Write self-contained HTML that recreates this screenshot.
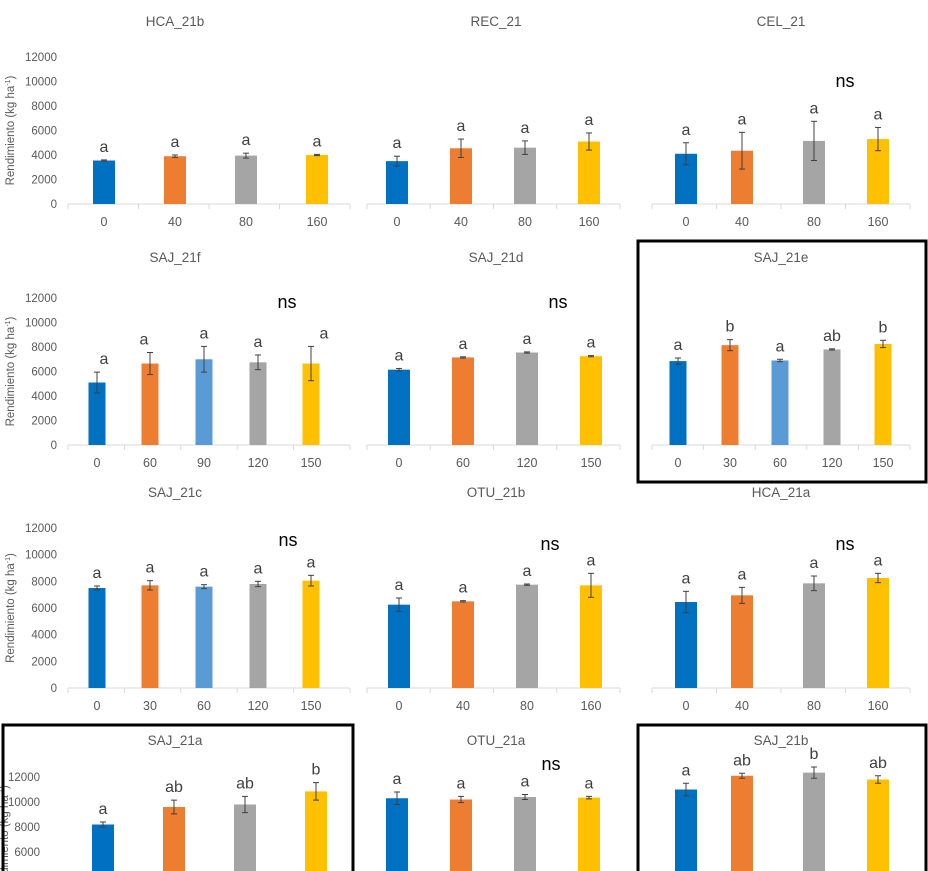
<!DOCTYPE html>
<html><head><meta charset="utf-8"><style>
html,body{margin:0;padding:0;background:#fff;width:928px;height:871px;overflow:hidden;}
svg{display:block;font-family:"Liberation Sans",sans-serif;}
</style></head><body>
<svg id="c" width="928" height="871" viewBox="0 0 928 871" xmlns="http://www.w3.org/2000/svg"></svg>
<script>
// ---- data ----
const titles = ["HCA_21b","REC_21","CEL_21","SAJ_21f","SAJ_21d","SAJ_21e","SAJ_21c","OTU_21b","HCA_21a","SAJ_21a","OTU_21a","SAJ_21b"];
const categories = [
 ["0","40","80","160"],["0","40","80","160"],["0","40","80","160"],
 ["0","60","90","120","150"],["0","60","120","150"],["0","30","60","120","150"],
 ["0","30","60","120","150"],["0","40","80","160"],["0","40","80","160"],
 ["0","40","80","160"],["0","40","80","160"],["0","40","80","160"]];
const values = [
 [3550,3900,3950,4000],[3500,4550,4600,5100],[4100,4350,5150,5300],
 [5100,6650,7000,6750,6650],[6150,7150,7550,7250],[6850,8150,6900,7800,8250],
 [7500,7700,7600,7800,8050],[6250,6500,7750,7700],[6450,6950,7850,8250],
 [8200,9600,9800,10850],[10300,10200,10400,10350],[11000,12100,12350,11800]];
const errors = [
 [50,100,200,50],[400,750,550,700],[900,1500,1600,950],
 [850,900,1050,600,1400],[100,50,50,50],[250,450,100,50,300],
 [150,350,150,200,400],[500,50,50,900],[800,600,550,350],
 [200,550,650,700],[500,250,200,100],[500,200,450,300]];
const letters = [
 ["a","a","a","a"],["a","a","a","a"],["a","a","a","a"],
 ["a","a","a","a","a"],["a","a","a","a"],["a","b","a","ab","b"],
 ["a","a","a","a","a"],["a","a","a","a"],["a","a","a","a"],
 ["a","ab","ab","b"],["a","a","a","a"],["a","ab","b","ab"]];
const nsFlag = [false,false,true,true,true,false,true,true,true,false,true,false];
const yTicks = [0,2000,4000,6000,8000,10000,12000];
const yMax = 12000;

// ---- layout (pixels) ----
const rows = [{base:204,top:57},{base:445,top:298},{base:688,top:528},{base:927,top:777}];
const cols = [
 {x0:68,x1:350,titleX:175},
 {x0:367,x1:620,titleX:496},
 {x0:652,x1:910,titleX:781}];
const barX = [
 [104,175,246,317],[397,461,525,589],[686,742,814,878],
 [97,150,204,258,311],[399,463,527,591],[678,730,780,832,883],
 [97,150,204,258,311],[399,463,527,591],[686,742,814,878],
 [103,174,245,316],[397,461,525,589],[686,742,814,878]];
const titleY = [26,262,497,745];
const nsPos = [null,null,[845,81],[287,302],[558,302],null,[288,540],[550,544],[845,544],null,[551,764],null];
const letterDx = {3:[7,-6,0,0,13]};
const yLabelsX = {0:57,3:57,6:57,9:40};
const boxes = [[638,241,926,482],[3,725,353,873],[638,725,926,873]];
const col4 = ["#0070c0","#ed7d31","#a5a5a5","#ffc000"];
const col5 = ["#0070c0","#ed7d31","#5b9bd5","#a5a5a5","#ffc000"];
const H = 871;

const svg = document.getElementById('c');
const NS = "http://www.w3.org/2000/svg";
function mk(tag, attrs, parent){const e=document.createElementNS(NS,tag);for(const k in attrs)e.setAttribute(k,attrs[k]);(parent||svg).appendChild(e);return e;}

for(let p=0;p<12;p++){
  const r=rows[Math.floor(p/3)], c=cols[p%3];
  const g=mk('g',{});
  
  
  const yS=v=>r.base-(v/yMax)*(r.base-r.top);
  const t=mk('text',{x:c.titleX,y:titleY[Math.floor(p/3)],'text-anchor':'middle','font-size':13.5,fill:'#595959'},g);
  t.textContent=titles[p];
  
  
  const n=values[p].length, bw=n===5?17:22;
  if(r.base<H){
    const ax=mk('line',{x1:c.x0,x2:c.x1,y1:r.base,y2:r.base,stroke:'#d9d9d9','stroke-width':1},g);
    
    
    const step=(c.x1-c.x0)/n;
    for(let i=0;i<=n;i++){mk('line',{x1:c.x0+i*step,x2:c.x0+i*step,y1:r.base,y2:r.base+5,stroke:'#d9d9d9'},g);}
  }
  if(yLabelsX[p]!==undefined){
    yTicks.forEach(v=>{
      const y=yS(v); if(y>H-4) return;
      const tl=mk('text',{x:yLabelsX[p],y:y+4,'text-anchor':'end','font-size':11.5,fill:'#595959'},g);
      tl.textContent=v;
      
      
    });
    const mid=(p===9)?840:(r.base+r.top)/2;
    const tx=(p===9)?8:14;
    const yt=mk('text',{x:tx,y:mid,'text-anchor':'middle','font-size':11.5,fill:'#595959',transform:`rotate(-90 ${tx} ${mid})`},g);
    yt.innerHTML='Rendimiento (kg ha<tspan dy="-4" font-size="7">-1</tspan><tspan dy="4">)</tspan>';
    
    
  }
  const cols_=n===5?col5:col4;
  for(let i=0;i<n;i++){
    const x=barX[p][i], v=values[p][i], e=errors[p][i];
    const bottom=Math.min(r.base,H);
    const b=mk('rect',{x:x-bw/2,y:yS(v),width:bw,height:Math.max(0,bottom-yS(v)),fill:cols_[i]},g);
    
    
    const yt=yS(v+e), yb=yS(v-e);
    mk('line',{x1:x,x2:x,y1:yt,y2:yb,stroke:'#404040','stroke-width':1},g);
    mk('line',{x1:x-3,x2:x+3,y1:yt,y2:yt,stroke:'#404040'},g);
    mk('line',{x1:x-3,x2:x+3,y1:yb,y2:yb,stroke:'#404040'},g);
    const dx=letterDx[p]?letterDx[p][i]:0;
    const lt=mk('text',{x:x+dx,y:yt-8,'text-anchor':'middle','font-size':16,fill:'#404040'},g);
    lt.textContent=letters[p][i];
    
    
    if(r.base+22<H){
      const xl=mk('text',{x:x,y:r.base+22,'text-anchor':'middle','font-size':12.5,fill:'#595959'},g);
      xl.textContent=categories[p][i];
      
      
    }
  }
  if(nsFlag[p]&&nsPos[p]){
    const ns=mk('text',{x:nsPos[p][0],y:nsPos[p][1]+6,'text-anchor':'middle','font-size':18,fill:'#000'},g);
    ns.textContent='ns';
    
    
  }
}
boxes.forEach(bx=>{
  const b=mk('rect',{x:bx[0],y:bx[1],width:bx[2]-bx[0],height:bx[3]-bx[1],fill:'none',stroke:'#000','stroke-width':3});
  
  
});
</script>
</body></html>
